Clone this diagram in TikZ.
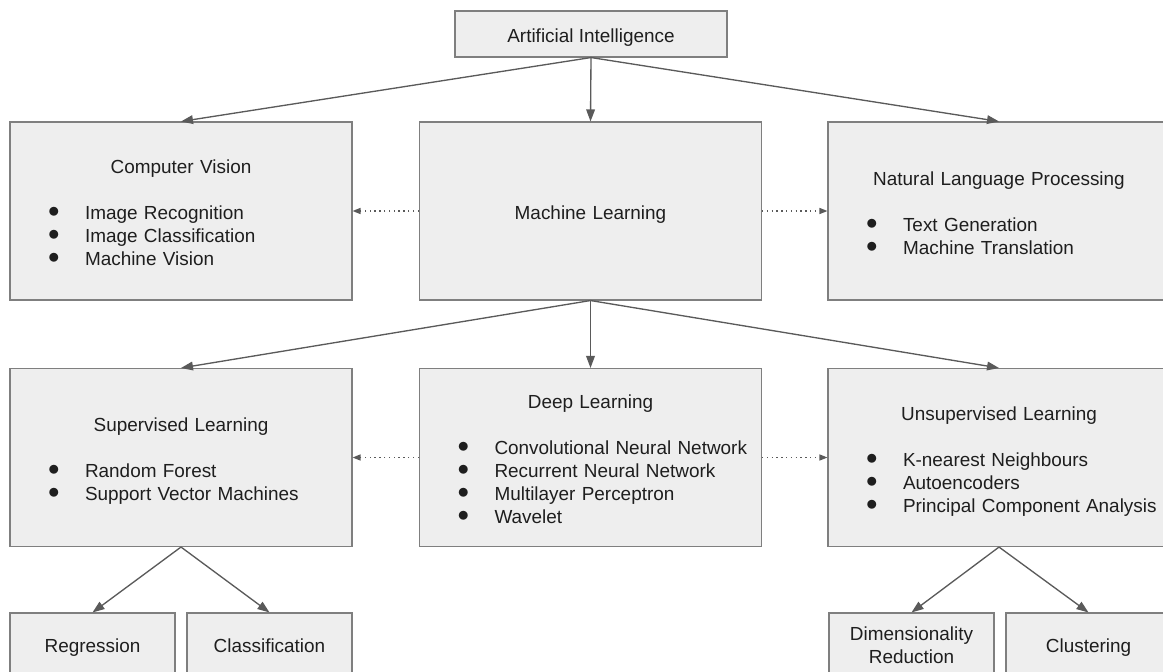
\documentclass[tikz,border=0pt]{standalone}
\usepackage{fontspec}
\setmainfont{Liberation Sans}
\usetikzlibrary{arrows.meta}

\definecolor{boxfill}{HTML}{EEEEEE}
\definecolor{boxline}{HTML}{7F7F7F}
\definecolor{linkgray}{HTML}{5A5A5A}
\definecolor{labeltext}{HTML}{1E1E1E}

\newcommand{\labelfont}{\fontsize{14.2}{17.25}\selectfont}
% heading line of a box, followed by an empty line
\newcommand{\boxhead}[1]{\makebox[\hsize]{#1}\\[17.25pt]}
% one bulleted entry
\newcommand{\dotitem}[1]{\hspace*{28.5pt}\makebox[27.75pt][l]{\raisebox{1.3pt}{\fontsize{16}{16}\selectfont$\bullet$}}#1}

\begin{document}
\begin{tikzpicture}[x=0.75pt, y=-0.75pt,
    box/.style={draw=boxline, fill=boxfill, line width=0.8pt, inner sep=0pt, font=\labelfont, text=labeltext,
      execute at begin node={\rule{0pt}{16.3pt}}, execute at end node={\rule[-3.5pt]{0pt}{3.5pt}}},
    bigbox/.style={box, align=left, text width=256.5pt, minimum height=133.5pt},
    smallbox/.style={box, align=center, text width=123.75pt, minimum height=45.75pt},
    link/.style={draw=linkgray, line width=1pt, -{Triangle[length=9pt,width=6.5pt]}},
    sidelink/.style={link, dash pattern=on 1pt off 2.6pt, -{Triangle[length=6pt,width=4.5pt]}}]

    \clip (0, 0) rectangle (1163, 671);

    \node[box, align=center, minimum width=204pt, minimum height=34.5pt](ai) at (591, 34) {Artificial Intelligence};

    \node[bigbox](cv) at (181, 211) {\boxhead{Computer Vision}\dotitem{Image Recognition}\\\dotitem{Image Classification}\\\dotitem{Machine Vision}};
    \node[bigbox](ml) at (590.5, 211) {\makebox[\hsize]{Machine Learning}};
    \node[bigbox](nlp) at (999, 211) {\boxhead{Natural Language Processing}\dotitem{Text Generation}\\\dotitem{Machine Translation}};

    \node[bigbox](sup) at (181, 457.5) {\boxhead{Supervised Learning}\dotitem{Random Forest}\\\dotitem{Support Vector Machines}};
    \node[bigbox](dl) at (590.5, 457.5) {\boxhead{Deep Learning}\dotitem{Convolutional Neural Network}\\\dotitem{Recurrent Neural Network}\\\dotitem{Multilayer Perceptron}\\\dotitem{Wavelet}};
    \node[bigbox](unsup) at (999, 457.5) {\boxhead{Unsupervised Learning}\dotitem{K-nearest Neighbours}\\\dotitem{Autoencoders}\\\dotitem{Principal Component Analysis}};

    \node[smallbox](reg) at (92.5, 643.5) {Regression};
    \node[smallbox](cls) at (269.5, 643.5) {Classification};
    \node[smallbox](dim) at (911.5, 643.5) {Dimensionality\\Reduction};
    \node[smallbox](clu) at (1088.5, 643.5) {Clustering};

    \draw[link] (ai.south) -- (cv.north);
    \draw[link] (ai.south) -- (ml.north);
    \draw[link] (ai.south) -- (nlp.north);

    \draw[sidelink] (ml.west) -- (cv.east);
    \draw[sidelink] (ml.east) -- (nlp.west);

    \draw[link] (ml.south) -- (sup.north);
    \draw[link] (ml.south) -- (dl.north);
    \draw[link] (ml.south) -- (unsup.north);

    \draw[sidelink] (dl.west) -- (sup.east);
    \draw[sidelink] (dl.east) -- (unsup.west);

    \draw[link] (sup.south) -- (reg.north);
    \draw[link] (sup.south) -- (cls.north);
    \draw[link] (unsup.south) -- (dim.north);
    \draw[link] (unsup.south) -- (clu.north);
  \end{tikzpicture}
\end{document}
